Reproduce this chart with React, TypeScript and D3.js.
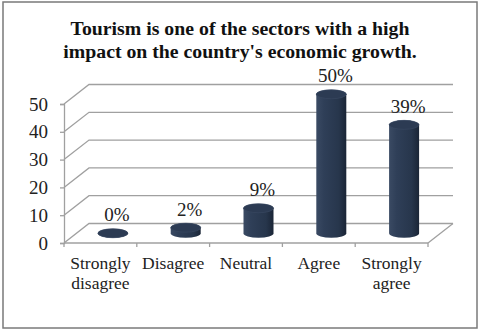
import { useEffect, useRef } from "react";
import * as d3 from "d3";

const categories = ["Strongly disagree", "Disagree", "Neutral", "Agree", "Strongly agree"];
const categoryLines = [["Strongly", "disagree"], ["Disagree"], ["Neutral"], ["Agree"], ["Strongly", "agree"]];
const values = [0, 2, 9, 50, 39];
const valueLabels = ["0%", "2%", "9%", "50%", "39%"];
const yTicks = [0, 10, 20, 30, 40, 50];
const titleLines = [
  "Tourism is one of the sectors with a high",
  "impact on the country's economic growth.",
];

const App = () => {
  const ref = useRef<SVGSVGElement>(null);

  useEffect(() => {
    const width = 480;
    const height = 333;
    const margin = { top: 104, right: 52, bottom: 90, left: 64 };
    const depth = { dx: 25, dy: -19.5 };
    const font = "'Liberation Serif', 'Times New Roman', serif";
    const gridColor = "#a0a0a0";

    const svg = d3.select(ref.current).attr("width", width).attr("height", height);
    svg.selectAll("*").remove();

    // 테두리
    svg
      .append("rect")
      .attr("x", 3)
      .attr("y", 2)
      .attr("width", 474)
      .attr("height", 326)
      .attr("fill", "#fff")
      .attr("stroke", "#7a7a7a")
      .attr("stroke-width", 1.5);

    // 제목
    svg
      .append("g")
      .selectAll("text")
      .data(titleLines)
      .join("text")
      .attr("x", 240)
      .attr("y", (d, i) => 35 + i * 23)
      .attr("text-anchor", "middle")
      .attr("font-family", font)
      .attr("font-weight", "bold")
      .attr("font-size", 19.8)
      .attr("fill", "#111")
      .text((d) => d);

    const xScale = d3
      .scaleBand()
      .domain(categories)
      .range([margin.left, width - margin.right])
      .padding(0);

    const yScale = d3
      .scaleLinear()
      .domain([0, 50])
      .range([height - margin.bottom, margin.top]);

    const x0 = margin.left;
    const x1 = width - margin.right;

    // 옆벽 대각선 + 뒷벽 보조선
    const grid = svg.append("g").attr("stroke", gridColor).attr("stroke-width", 1.3).attr("fill", "none");
    yTicks.forEach((t) => {
      const y = yScale(t);
      grid
        .append("path")
        .attr("d", `M${x0},${y}L${x0 + depth.dx},${y + depth.dy}L${x1 + depth.dx},${y + depth.dy}`);
    });
    // 바닥 오른쪽 모서리
    grid
      .append("path")
      .attr("d", `M${x1},${yScale(0)}L${x1 + depth.dx},${yScale(0) + depth.dy}`);

    // Y축
    svg
      .append("g")
      .attr("transform", `translate(${x0},0)`)
      .call(d3.axisLeft(yScale).tickValues(yTicks).tickSize(4).tickPadding(12))
      .call((g) => g.select(".domain").attr("stroke", gridColor).attr("stroke-width", 1.3))
      .call((g) => g.selectAll(".tick line").attr("stroke", gridColor).attr("stroke-width", 1.3))
      .call((g) =>
        g
          .selectAll(".tick text")
          .attr("font-family", font)
          .attr("font-size", 19)
          .attr("fill", "#222")
          .attr("dy", "0.32em")
      );

    // X축
    const xAxis = svg.append("g").attr("stroke", gridColor).attr("stroke-width", 1.3);
    xAxis.append("line").attr("x1", x0).attr("x2", x1).attr("y1", yScale(0)).attr("y2", yScale(0));
    const bounds = categories.map((c) => xScale(c) as number).concat([x1]);
    xAxis
      .selectAll("line.tick")
      .data(bounds)
      .join("line")
      .attr("class", "tick")
      .attr("x1", (d) => d)
      .attr("x2", (d) => d)
      .attr("y1", yScale(0))
      .attr("y2", yScale(0) + 4);

    svg
      .append("g")
      .selectAll("text")
      .data(categories)
      .join("text")
      .attr("text-anchor", "middle")
      .attr("font-family", font)
      .attr("font-size", 17.5)
      .attr("fill", "#222")
      .each(function (d, i) {
        const cx = (xScale(d) as number) + xScale.bandwidth() / 2;
        d3.select(this)
          .selectAll("tspan")
          .data(categoryLines[i])
          .join("tspan")
          .attr("x", cx)
          .attr("y", (l, j) => 269 + j * 19.5)
          .text((l) => l);
      });

    // 원기둥 그라데이션
    const defs = svg.append("defs");
    const grad = defs
      .append("linearGradient")
      .attr("id", "cyl")
      .attr("x1", 0)
      .attr("x2", 1)
      .attr("y1", 0)
      .attr("y2", 0);
    [
      ["0", "#3a4a63"],
      ["0.25", "#2f3f58"],
      ["0.75", "#27364c"],
      ["1", "#1a2536"],
    ].forEach(([o, c]) => grad.append("stop").attr("offset", o).attr("stop-color", c));

    const rx = 15;
    const ry = 4.5;
    const cyl = svg.append("g");
    values.forEach((v, i) => {
      const cx = (xScale(categories[i]) as number) + xScale.bandwidth() / 2 + depth.dx / 2;
      const base = yScale(0) + depth.dy / 2;
      const top = yScale(v) + depth.dy / 2;
      cyl
        .append("path")
        .attr(
          "d",
          `M${cx - rx},${top}L${cx - rx},${base}A${rx},${ry} 0 0 0 ${cx + rx},${base}L${cx + rx},${top}A${rx},${ry} 0 0 0 ${cx - rx},${top}Z`
        )
        .attr("fill", "url(#cyl)");
      cyl
        .append("ellipse")
        .attr("cx", cx)
        .attr("cy", top)
        .attr("rx", rx)
        .attr("ry", ry)
        .attr("fill", "#2c3b53")
        .attr("stroke", "#3a4a63")
        .attr("stroke-width", 0.6);
      cyl
        .append("text")
        .attr("x", cx + 4)
        .attr("y", top - 12)
        .attr("text-anchor", "middle")
        .attr("font-family", font)
        .attr("font-size", 19)
        .attr("fill", "#222")
        .text(valueLabels[i]);
    });
  }, []);

  return <svg ref={ref} style={{ position: "absolute", left: 0, top: 0 }} />;
};

export default App;
